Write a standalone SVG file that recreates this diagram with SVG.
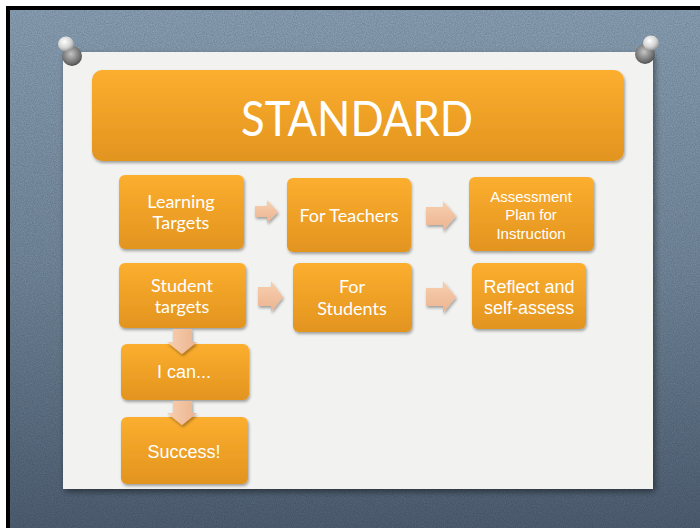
<svg xmlns="http://www.w3.org/2000/svg" width="700" height="528" viewBox="0 0 700 528">
  <defs>
    <linearGradient id="bg" x1="0" y1="0" x2="0" y2="1">
      <stop offset="0" stop-color="#93abc1"/>
      <stop offset="0.5" stop-color="#7a91a6"/>
      <stop offset="1" stop-color="#53657a"/>
    </linearGradient>
    <linearGradient id="box" x1="0" y1="0" x2="0" y2="1">
      <stop offset="0" stop-color="#fcae2f"/>
      <stop offset="1" stop-color="#e2941f"/>
    </linearGradient>
    <linearGradient id="arrH" x1="0" y1="0" x2="0" y2="1">
      <stop offset="0" stop-color="#f8d0b0"/>
      <stop offset="1" stop-color="#ebb38f"/>
    </linearGradient>
    <linearGradient id="arrV" x1="0" y1="0" x2="1" y2="0">
      <stop offset="0" stop-color="#f8d0b0"/>
      <stop offset="1" stop-color="#ebb38f"/>
    </linearGradient>
    <radialGradient id="pinHead" cx="0.4" cy="0.35" r="0.7">
      <stop offset="0" stop-color="#ffffff"/>
      <stop offset="0.6" stop-color="#d2d2d2"/>
      <stop offset="1" stop-color="#8a8a8a"/>
    </radialGradient>
    <radialGradient id="pinBase" cx="0.45" cy="0.4" r="0.7">
      <stop offset="0" stop-color="#c4c4c4"/>
      <stop offset="0.7" stop-color="#6a6a6a"/>
      <stop offset="1" stop-color="#333333"/>
    </radialGradient>
    <filter id="grain" x="0" y="0" width="100%" height="100%">
      <feTurbulence type="fractalNoise" baseFrequency="0.9" numOctaves="2" seed="3"/>
      <feColorMatrix values="0 0 0 0 0  0 0 0 0 0  0 0 0 0 0  0 0 0 0.25 0"/>
      <feComposite in2="SourceGraphic" operator="in"/>
    </filter>
    <filter id="shadow" x="-10%" y="-10%" width="130%" height="140%">
      <feGaussianBlur in="SourceAlpha" stdDeviation="1.5"/>
      <feOffset dx="1" dy="2" result="b"/>
      <feComponentTransfer><feFuncA type="linear" slope="0.35"/></feComponentTransfer>
      <feMerge><feMergeNode/><feMergeNode in="SourceGraphic"/></feMerge>
    </filter>
    <filter id="cardShadow" x="-5%" y="-5%" width="110%" height="110%">
      <feGaussianBlur in="SourceAlpha" stdDeviation="3"/>
      <feOffset dx="2" dy="3"/>
      <feComponentTransfer><feFuncA type="linear" slope="0.45"/></feComponentTransfer>
      <feMerge><feMergeNode/><feMergeNode in="SourceGraphic"/></feMerge>
    </filter>
    <filter id="soft" x="-30%" y="-30%" width="160%" height="160%">
      <feGaussianBlur stdDeviation="0.7"/>
    </filter>
  </defs>
  <style>
    .node rect { fill: url(#box); filter: url(#shadow); }
    .node text { fill: #ffffff; text-anchor: middle; }
    .gill { font-family: Lato, "Open Sans", "Liberation Sans", sans-serif; font-size: 18px; }
    .arial { font-family: "Liberation Sans", Arial, sans-serif; font-size: 18px; }
    .small { font-size: 15px; }
    .arrow-h { fill: url(#arrH); filter: url(#shadow); }
    .arrow-v { fill: url(#arrV); filter: url(#shadow); }
  </style>

  <!-- backdrop -->
  <rect x="0" y="0" width="700" height="528" fill="#ffffff"/>
  <rect x="6" y="6" width="694" height="522" fill="url(#bg)"/>
  <rect x="6" y="6" width="694" height="522" fill="url(#bg)" filter="url(#grain)"/>
  <rect x="6" y="6" width="694" height="4" fill="#000000"/>
  <rect x="6" y="6" width="4" height="522" fill="#000000"/>

  <!-- paper card -->
  <rect x="63" y="52" width="590" height="437" fill="#f2f2f1" filter="url(#cardShadow)"/>

  <!-- pins -->
  <g id="pin-left">
    <ellipse cx="72" cy="56" rx="10" ry="10" fill="url(#pinBase)" filter="url(#soft)"/>
    <ellipse cx="66" cy="44" rx="8" ry="7.5" fill="url(#pinHead)" filter="url(#soft)"/>
  </g>
  <g id="pin-right">
    <ellipse cx="645" cy="54" rx="10" ry="10" fill="url(#pinBase)" filter="url(#soft)"/>
    <ellipse cx="651" cy="43" rx="8" ry="7.5" fill="url(#pinHead)" filter="url(#soft)"/>
  </g>

  <!-- title -->
  <g id="standard" class="node">
    <rect x="92" y="70" width="532" height="91" rx="10"/>
    <text x="357" y="136" font-family="Lato, 'Open Sans', 'Liberation Sans', sans-serif" font-size="48" textLength="232" lengthAdjust="spacingAndGlyphs">STANDARD</text>
  </g>

  <!-- nodes -->
  <g id="learning-targets" class="node">
    <rect x="119" y="175" width="125" height="74" rx="6"/>
    <text class="gill" x="181" y="208">Learning</text>
    <text class="gill" x="181" y="229">Targets</text>
  </g>
  <g id="for-teachers" class="node">
    <rect x="287" y="178" width="124" height="74" rx="6"/>
    <text class="gill" x="349" y="222">For Teachers</text>
  </g>
  <g id="assessment-plan" class="node">
    <rect x="469" y="177" width="125" height="74" rx="6"/>
    <text class="arial small" x="531" y="202">Assessment</text>
    <text class="arial small" x="531" y="220">Plan for</text>
    <text class="arial small" x="531" y="239">Instruction</text>
  </g>
  <g id="student-targets" class="node">
    <rect x="119" y="263" width="127" height="65" rx="6"/>
    <text class="gill" x="182" y="292">Student</text>
    <text class="gill" x="182" y="313">targets</text>
  </g>
  <g id="for-students" class="node">
    <rect x="293" y="263" width="119" height="69" rx="6"/>
    <text class="gill" x="352" y="293">For</text>
    <text class="gill" x="352" y="315">Students</text>
  </g>
  <g id="reflect" class="node">
    <rect x="472" y="263" width="114" height="66" rx="6"/>
    <text class="arial" x="529" y="293">Reflect and</text>
    <text class="arial" x="529" y="314">self-assess</text>
  </g>
  <g id="i-can" class="node">
    <rect x="121" y="344" width="128" height="56" rx="6"/>
    <text class="arial" x="184" y="378">I can...</text>
  </g>
  <g id="success" class="node">
    <rect x="121" y="417" width="127" height="67" rx="6"/>
    <text class="arial" x="184" y="458">Success!</text>
  </g>

  <!-- connectors, drawn over the boxes they join -->
  <g id="connectors">
    <path class="arrow-h" d="M255,206 H267 V200 L278,212 L267,223 V217 H255 Z"/>
    <path class="arrow-h" d="M258,287 H271 V281 L283,297 L271,312 V306 H258 Z"/>
    <path class="arrow-h" d="M426,207 H443 V201 L456,216 L443,231 V225 H426 Z"/>
    <path class="arrow-h" d="M426,288 H443 V281 L456,297 L443,313 V306 H426 Z"/>
    <path class="arrow-v" d="M173,329 H192 V342 H197 L182,354 L167,342 H173 Z"/>
    <path class="arrow-v" d="M173,401 H192 V413 H197 L182,425 L167,413 H173 Z"/>
  </g>
</svg>
